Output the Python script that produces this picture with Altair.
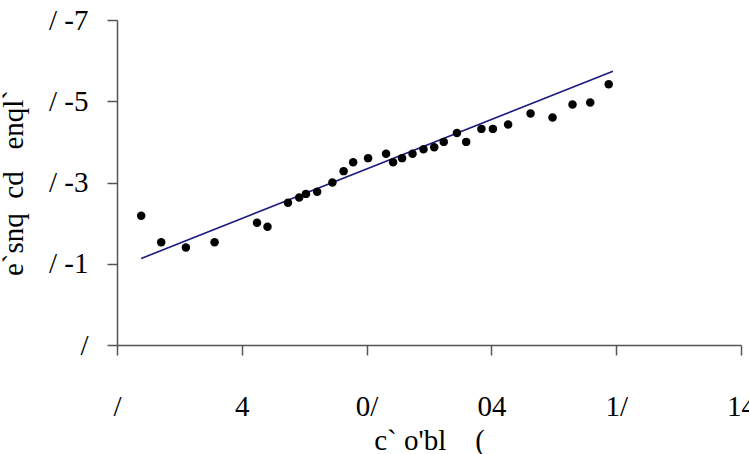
import altair as alt
import pandas as pd

# data
x_vals = [0.97, 1.77, 2.76, 3.91, 5.61, 6.03, 6.85, 7.30, 7.57, 8.02, 8.63, 9.08,
          9.46, 10.06, 10.78, 11.06, 11.42, 11.84, 12.28, 12.71, 13.09, 13.62,
          13.99, 14.60, 15.06, 15.67, 16.57, 17.45, 18.25, 18.96, 19.70]
y_vals = [0.318, 0.253, 0.240, 0.253, 0.301, 0.291, 0.350, 0.363, 0.372, 0.377,
          0.400, 0.428, 0.450, 0.460, 0.471, 0.450, 0.460, 0.471, 0.482, 0.487,
          0.500, 0.522, 0.500, 0.532, 0.532, 0.543, 0.570, 0.560, 0.592, 0.597,
          0.642]
fit_x = [0.97, 19.87]
fit_y = [0.213, 0.674]

x_ticks = [0, 5, 10, 15, 20, 25]
x_tick_labels = ["/", "4", "0/", "04", "1/", "14"]
y_ticks = [0, 0.2, 0.4, 0.6, 0.8]
y_tick_labels = ["/", "/ -1", "/ -3", "/ -5", "/ -7"]
x_title = "c`\u00a0o'bl\u00a0\u00a0\u00a0\u00a0("
y_title = "e`snq\u00a0\u00a0cd\u00a0\u00a0\u00a0enql`"


def label_expr(values, labels):
    expr = "''"
    for v, l in reversed(list(zip(values, labels))):
        expr = f"abs(datum.value - {v}) < 1e-6 ? '{l}' : ({expr})"
    return expr


pts = pd.DataFrame({"x": x_vals, "y": y_vals})
fit = pd.DataFrame({"x": fit_x, "y": fit_y})

FONT = "Liberation Serif"
FS = 29

x_enc = alt.X(
    "x:Q",
    scale=alt.Scale(domain=[0, 25], nice=False, zero=False),
    axis=alt.Axis(
        values=x_ticks, labelExpr=label_expr(x_ticks, x_tick_labels),
        title=x_title, grid=False, tickSize=10, labelPadding=37,
        titlePadding=5, labelFont=FONT, titleFont=FONT, labelFontSize=FS,
        titleFontSize=FS, titleFontWeight="normal", labelColor="black",
        titleColor="black", domainColor="#555555", tickColor="#555555",
        domainWidth=1.5, tickWidth=1.5, labelFlush=False, labelOverlap=False,
    ),
)
y_enc = alt.Y(
    "y:Q",
    scale=alt.Scale(domain=[0, 0.8], nice=False, zero=False),
    axis=alt.Axis(
        values=y_ticks, labelExpr=label_expr(y_ticks, y_tick_labels),
        title=y_title, grid=False, tickSize=10, labelPadding=19,
        titlePadding=20, labelFont=FONT, titleFont=FONT, labelFontSize=FS,
        titleFontSize=FS, titleFontWeight="normal", labelColor="black",
        titleColor="black", domainColor="#555555", tickColor="#555555",
        domainWidth=1.5, tickWidth=1.5, labelFlush=False, labelOverlap=False,
    ),
)

points = alt.Chart(pts).mark_circle(size=72, color="black", opacity=1).encode(
    x=x_enc, y=y_enc
)
line = alt.Chart(fit).mark_line(color="#1a1a80", strokeWidth=1.6).encode(
    x="x:Q", y="y:Q"
)

chart = (
    alt.layer(line, points)
    .properties(
        width=624,
        height=325,
        autosize=alt.AutoSizeParams(type="none"),
        padding={"left": 117, "top": 20, "right": 8, "bottom": 109},
        background="white",
    )
    .configure_view(stroke=None)
)

chart.save("out.html", embed_options={"renderer": "svg", "actions": False})
